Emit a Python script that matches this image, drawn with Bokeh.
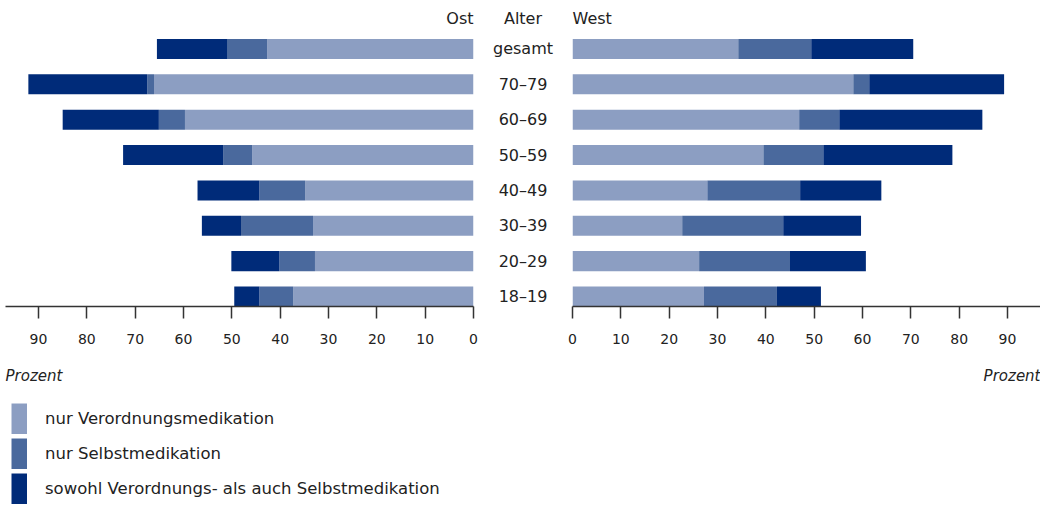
from bokeh.plotting import figure
from bokeh.layouts import row, column
from bokeh.models import Range1d, FixedTicker, Title, Legend, LegendItem, ColumnDataSource
from bokeh.core.properties import value
from bokeh.embed import file_html
from bokeh.resources import INLINE

# ---------------- data ----------------
ages = ["18–19", "20–29", "30–39", "40–49", "50–59", "60–69", "70–79", "gesamt"]
ost_verordnung = [37.3, 32.8, 33.2, 34.8, 45.8, 59.7, 66.1, 42.7]
ost_selbst = [7.0, 7.4, 14.9, 9.5, 6.0, 5.4, 1.4, 8.3]
ost_beide = [5.2, 9.9, 8.1, 12.8, 20.7, 19.9, 24.6, 14.5]
west_verordnung = [27.2, 26.2, 22.7, 27.9, 39.5, 46.9, 58.1, 34.3]
west_selbst = [15.1, 18.8, 20.9, 19.2, 12.4, 8.3, 3.3, 15.1]
west_beide = [9.1, 15.7, 16.1, 16.8, 26.7, 29.6, 27.9, 21.1]
tick_values = [0, 10, 20, 30, 40, 50, 60, 70, 80, 90]
series_names = ["nur Verordnungsmedikation", "nur Selbstmedikation",
                "sowohl Verordnungs- als auch Selbstmedikation"]
colors = ["#8C9EC2", "#4A699D", "#002B79"]

FONT = "DejaVu Sans"
TXT = "#222222"
H1 = 402
ypos = list(range(len(ages)))
y_range = Range1d(-0.283, 7.522)


def base_fig(width, x_range, min_left, min_right, title, align):
    p = figure(width=width, height=H1, x_range=x_range, y_range=y_range,
               output_backend="svg", toolbar_location=None, y_axis_location=None,
               min_border_left=min_left, min_border_right=min_right,
               min_border_top=30, min_border_bottom=0)
    p.grid.visible = False
    p.outline_line_color = None
    p.title.text = title
    p.title.align = align
    p.title.text_font = FONT
    p.title.text_font_size = "16px"
    p.title.text_font_style = "normal"
    p.title.text_color = TXT
    p.title.standoff = 6
    ax = p.xaxis[0]
    ax.ticker = FixedTicker(ticks=tick_values)
    ax.axis_line_width = 1.5
    ax.axis_line_color = "#333333"
    ax.major_tick_line_width = 1.5
    ax.major_tick_line_color = "#333333"
    ax.major_tick_out = 12
    ax.major_tick_in = 0
    ax.minor_tick_out = 0
    ax.minor_tick_in = 0
    ax.major_label_text_font = FONT
    ax.major_label_text_font_size = "14px"
    ax.major_label_text_color = TXT
    ax.major_label_standoff = 15
    return p


def add_prozent(p, align, visible=True):
    t = Title(text="Prozent", align=align, text_font=FONT, text_font_size="15px",
              text_font_style="italic", text_color=TXT if visible else None,
              standoff=36)
    p.add_layout(t, "below")


# left (Ost)
left = base_fig(481, Range1d(96.83, 0), 5, 8, "Ost", "right")
src_o = ColumnDataSource(dict(y=ypos, a=ost_verordnung, b=ost_selbst, c=ost_beide))
left.hbar_stack(["a", "b", "c"], y="y", height=0.567, fill_color=colors,
                line_color=None, source=src_o)
add_prozent(left, "left")

# middle (Alter)
mid = base_fig(83, Range1d(0, 1), 0, 0, "Alter", "center")
mid.xaxis[0].ticker = FixedTicker(ticks=[0.5])
mid.xaxis[0].axis_line_color = None
mid.xaxis[0].major_tick_line_color = None
mid.xaxis[0].major_label_text_color = None
src_m = ColumnDataSource(dict(y=ypos, x=[0.5] * len(ages), t=ages))
mid.text(x="x", y="y", text="t", source=src_m, text_align="center",
         text_baseline="middle", text_font=value(FONT), text_font_size="16px",
         text_color=TXT)
add_prozent(mid, "center", visible=False)

# right (West)
right = base_fig(476, Range1d(0, 96.83), 8, 0, "West", "left")
src_w = ColumnDataSource(dict(y=ypos, a=west_verordnung, b=west_selbst, c=west_beide))
right.hbar_stack(["a", "b", "c"], y="y", height=0.567, fill_color=colors,
                 line_color=None, source=src_w)
add_prozent(right, "right")

# legend
leg = figure(width=1040, height=102, output_backend="svg", toolbar_location=None,
             x_axis_location=None, y_axis_location=None,
             min_border_left=10, min_border_top=0, min_border_right=0, min_border_bottom=0,
             x_range=Range1d(0, 1), y_range=Range1d(0, 1))
leg.grid.visible = False
leg.outline_line_color = None
items = []
for name, c in zip(series_names, colors):
    r = leg.line(x=[0], y=[0], line_width=31, line_color=c, line_cap="butt")
    items.append(LegendItem(label=name, renderers=[r]))
legend = Legend(items=items, location="top_left", margin=1, padding=0, spacing=4,
                glyph_width=16, glyph_height=31, label_standoff=18,
                label_text_font=FONT, label_text_font_size="16.5px",
                label_text_color=TXT,
                border_line_color=None, background_fill_alpha=0)
leg.add_layout(legend)

layout = column(row(left, mid, right), leg)
open("out.html", "w").write(file_html(layout, INLINE))
